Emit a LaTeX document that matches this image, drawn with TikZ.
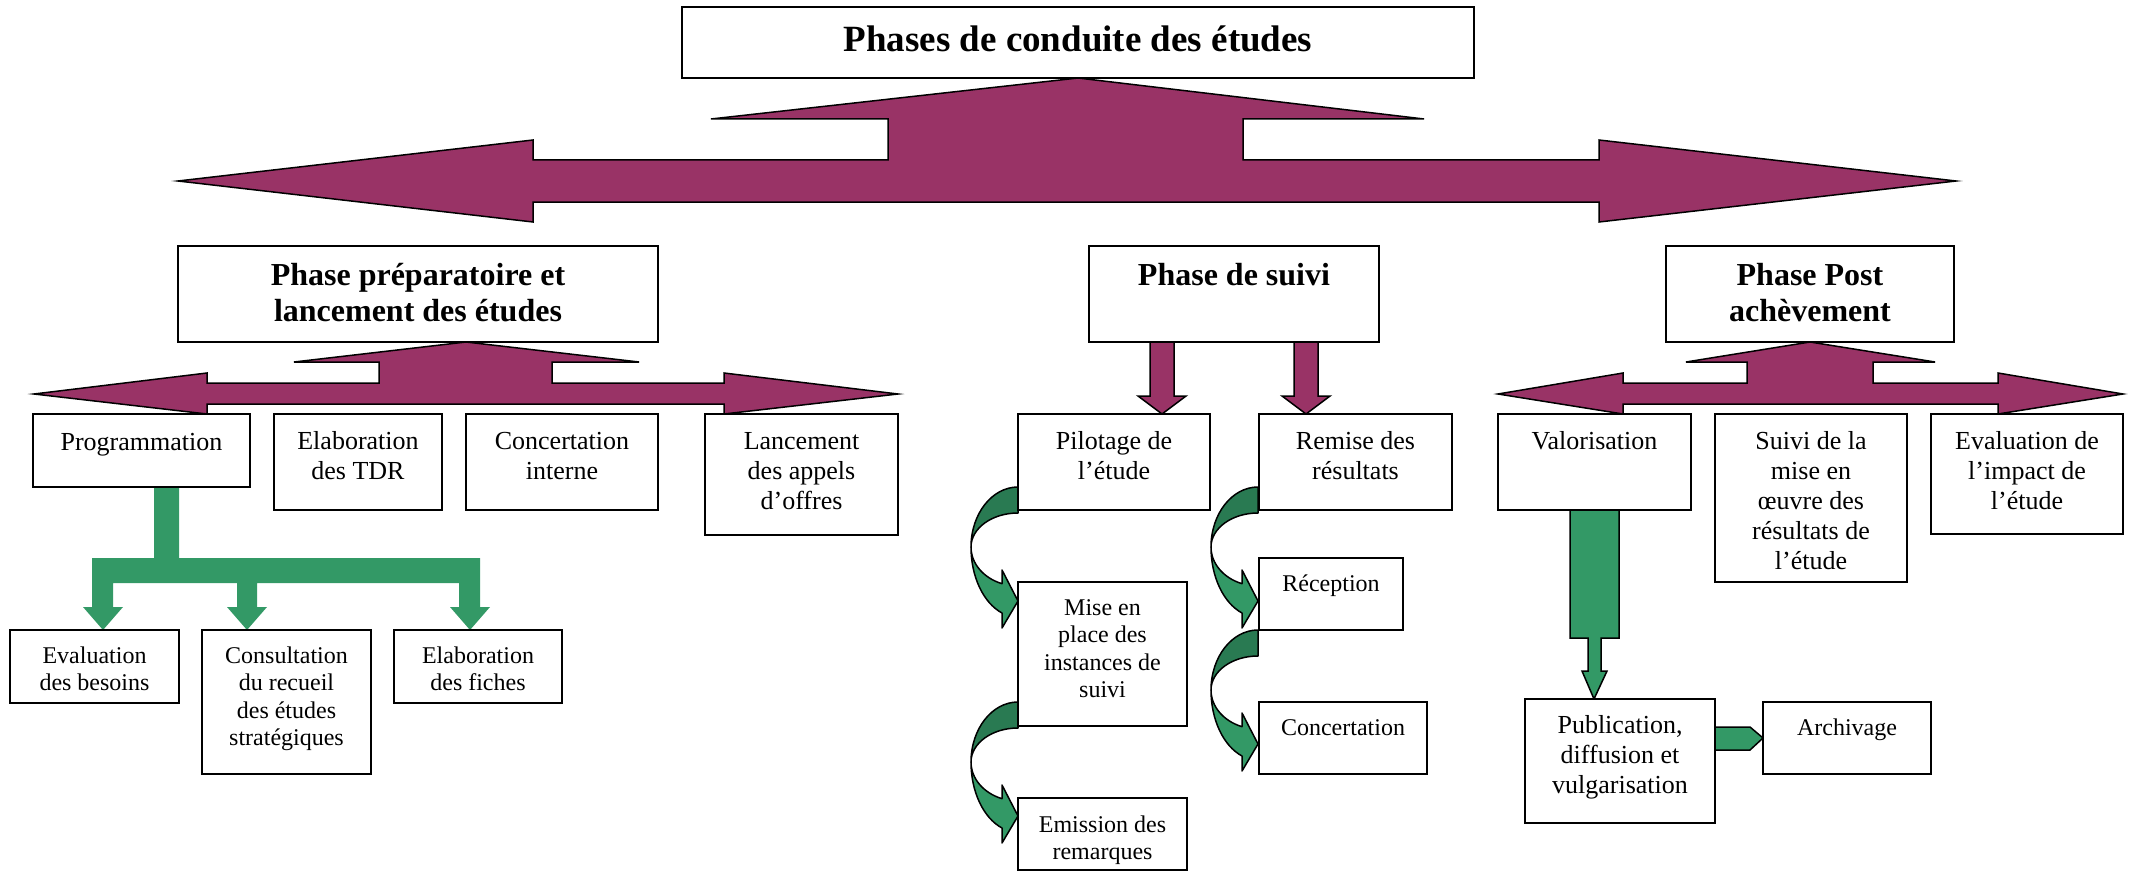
\documentclass[tikz,border=0pt]{standalone}
\usepackage{fontspec}
\setmainfont{Liberation Serif}
\definecolor{purp}{HTML}{993366}
\definecolor{grn}{HTML}{339966}
\definecolor{dkgrn}{HTML}{297A52}
\newcommand\ftitle{\fontsize{37}{42}\selectfont\bfseries}
\newcommand\fphase{\fontsize{32}{36.8}\selectfont\bfseries}
\newcommand\fbody{\fontsize{26}{30}\selectfont}
\newcommand\fsmall{\fontsize{24}{27.6}\selectfont}
\newcommand\tb[4]{\parbox[c][#2pt][t]{#1pt}{\centering\rule{0pt}{#3pt}#4\par}}
\tikzset{
  box/.style={draw, line width=2pt, fill=white, inner sep=0pt, outer sep=0pt, anchor=north west},
  parr/.style={fill=purp, draw=black, line width=1.5pt, line join=miter},
  garr/.style={draw=black, line width=1.5pt, line join=round},
}
\newcommand\carrow[2]{%
\begin{scope}[shift={(#1,#2)}]
\filldraw[garr, fill=dkgrn] (0,0) arc[start angle=270, end angle=180, x radius=47, y radius=60]
  arc[start angle=180, end angle=270, x radius=47, y radius=34] -- cycle;
\filldraw[garr, fill=grn] (-47,60) arc[start angle=180, end angle=109.9, x radius=47, y radius=39]
  -- (-16,83) -- (0,114) -- (-16,141) -- (-16,126)
  arc[start angle=109.9, end angle=180, x radius=47, y radius=70] -- cycle;
\end{scope}}
\begin{document}
\begin{tikzpicture}[x=1pt,y=-1pt]
\useasboundingbox (0,0) rectangle (2134,872);

% big purple arrow
\filldraw[parr] (1078,78) -- (1424,119) -- (1243,119) -- (1243,160) -- (1599,160) -- (1599,140)
  -- (1956,181) -- (1599,222) -- (1599,202) -- (533,202) -- (533,222) -- (178,181)
  -- (533,140) -- (533,160) -- (888,160) -- (888,119) -- (711,119) -- cycle;

% prep arrow
\filldraw[parr] (466,342) -- (639,362) -- (552,362) -- (552,383) -- (724,383) -- (724,373)
  -- (898,394) -- (724,414) -- (724,404) -- (207,404) -- (207,414) -- (34,394)
  -- (207,373) -- (207,383) -- (379,383) -- (379,362) -- (294,362) -- cycle;

% post arrow
\filldraw[parr] (1810,342) -- (1935,362) -- (1873,362) -- (1873,383) -- (1998,383) -- (1998,373)
  -- (2123,394) -- (1998,414) -- (1998,404) -- (1623,404) -- (1623,414) -- (1498,394)
  -- (1623,373) -- (1623,383) -- (1747,383) -- (1747,362) -- (1686,362) -- cycle;

% suivi down arrows
\filldraw[parr] (1150,342) -- (1174,342) -- (1174,396) -- (1186,396) -- (1162,414) -- (1138,396) -- (1150,396) -- cycle;
\filldraw[parr] (1294,342) -- (1318,342) -- (1318,396) -- (1330,396) -- (1306,414) -- (1282,396) -- (1294,396) -- cycle;

% green tree
\fill[grn] (154,487) -- (179,487) -- (179,558) -- (480,558) -- (480,607) -- (490,607) -- (470,630)
  -- (450,607) -- (459,607) -- (459,583) -- (257,583) -- (257,607) -- (267,607) -- (247,630)
  -- (227,607) -- (237,607) -- (237,583) -- (113,583) -- (113,607) -- (123,607) -- (103,630)
  -- (83,607) -- (92,607) -- (92,558) -- (154,558) -- cycle;

% valorisation arrow
\filldraw[garr, fill=grn, line join=miter] (1570,510) -- (1619,510) -- (1619,638) -- (1601,638) -- (1601,671)
  -- (1607,671) -- (1594,699) -- (1582,671) -- (1588,671) -- (1588,638) -- (1570,638) -- cycle;
% archivage arrow
\filldraw[garr, fill=grn, line join=miter] (1715,727) -- (1750,727) -- (1763,738) -- (1750,750) -- (1715,750) -- cycle;

% curved arrows
\carrow{1018}{487}
\carrow{1018}{702}
\carrow{1258}{487}
\carrow{1258}{630}

% boxes
\node[box, font=\ftitle] (title) at (682,7) {\tb{792}{71}{45}{Phases de conduite des études}};
\node[box, font=\fphase] (prep) at (178,246) {\tb{480}{96}{39}{Phase préparatoire et\\lancement des études}};
\node[box, font=\fphase] (suivi) at (1089,246) {\tb{290}{96}{39}{Phase de suivi}};
\node[box, font=\fphase] (post) at (1666,246) {\tb{288}{96}{39}{Phase Post\\achèvement}};

\node[box, font=\fbody] (prog) at (33,414) {\tb{217}{73}{36}{Programmation}};
\node[box, font=\fbody] (tdr) at (274,414) {\tb{168}{96}{35}{Elaboration\\des TDR}};
\node[box, font=\fbody] (concint) at (466,414) {\tb{192}{96}{35}{Concertation\\interne}};
\node[box, font=\fbody] (lanc) at (705,414) {\tb{193}{121}{35}{Lancement\\des appels\\d’offres}};
\node[box, font=\fbody] (pil) at (1018,414) {\tb{192}{96}{35}{Pilotage de\\l’étude}};
\node[box, font=\fbody] (remise) at (1259,414) {\tb{193}{96}{35}{Remise des\\résultats}};
\node[box, font=\fbody] (valo) at (1498,414) {\tb{193}{96}{35}{Valorisation}};
\node[box, font=\fbody] (suivimo) at (1715,414) {\tb{192}{168}{35}{Suivi de la\\mise en\\œuvre des\\résultats de\\l’étude}};
\node[box, font=\fbody] (evalimp) at (1931,414) {\tb{192}{120}{35}{Evaluation de\\l’impact de\\l’étude}};

\node[box, font=\fsmall] (evbes) at (10,630) {\tb{169}{73}{33}{Evaluation\\des besoins}};
\node[box, font=\fsmall] (consult) at (202,630) {\tb{169}{144}{33}{Consultation\\du recueil\\des études\\stratégiques}};
\node[box, font=\fsmall] (elabf) at (394,630) {\tb{168}{73}{33}{Elaboration\\des fiches}};

\node[box, font=\fsmall] (mise) at (1018,582) {\tb{169}{144}{33}{Mise en\\place des\\instances de\\suivi}};
\node[box, font=\fsmall] (emis) at (1018,798) {\tb{169}{72}{34}{Emission des\\remarques}};
\node[box, font=\fsmall] (recep) at (1259,558) {\tb{144}{72}{33}{Réception}};
\node[box, font=\fsmall] (concert) at (1259,702) {\tb{168}{72}{33}{Concertation}};

\node[box, font=\fbody] (publi) at (1525,699) {\tb{190}{124}{34}{Publication,\\diffusion et\\vulgarisation}};
\node[box, font=\fsmall] (archi) at (1763,702) {\tb{168}{72}{33}{Archivage}};
\end{tikzpicture}
\end{document}
